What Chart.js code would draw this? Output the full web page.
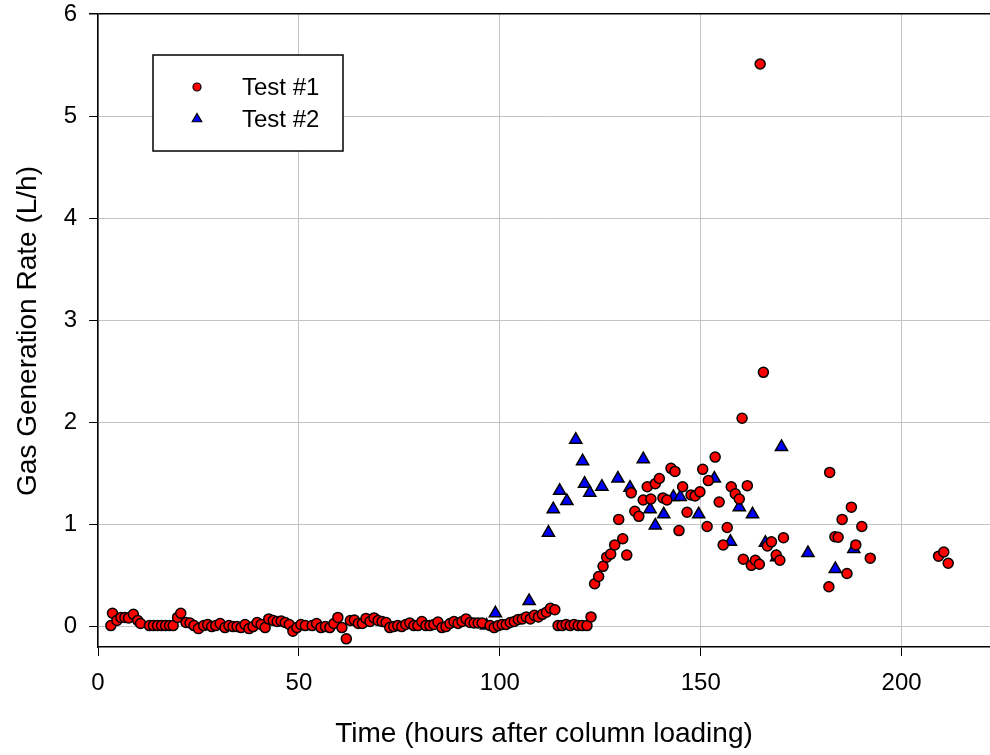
<!DOCTYPE html>
<html><head><meta charset="utf-8">
<script src="https://cdn.jsdelivr.net/npm/chart.js@4"></script>
<style>html,body{margin:0;padding:0;background:#fff;overflow:hidden}#wrap{width:990px;height:755px;position:relative}</style>
</head><body><div id="wrap"><canvas id="c" width="990" height="755"></canvas></div>
<script>
const seriesNames = ['Test #1', 'Test #2'];
const xTitle = 'Time (hours after column loading)';
const yTitle = 'Gas Generation Rate (L/h)';
const xTicks = [0, 50, 100, 150, 200];
const yTicks = [0, 1, 2, 3, 4, 5, 6];

const test1X = [3.2,3.6,4.7,5.7,6.7,7.6,8.8,9.9,10.6,12.8,13.8,14.8,15.8,16.8,17.8,18.7,19.8,20.6,21.9,22.9,23.9,25.0,26.3,27.3,28.3,29.3,30.4,31.6,32.6,33.6,34.6,35.6,36.6,37.6,38.6,39.6,40.6,41.6,42.5,43.6,44.6,45.6,46.6,47.6,48.5,49.5,50.5,51.6,53.3,54.4,55.5,56.6,57.7,58.7,59.7,60.7,61.8,62.8,63.8,64.8,65.8,66.7,67.7,68.7,69.7,70.7,71.7,72.6,73.6,74.6,75.6,76.6,77.6,78.6,79.6,80.6,81.6,82.6,83.6,84.6,85.6,86.6,87.6,88.6,89.6,90.6,91.6,92.6,93.6,94.6,95.6,97.6,98.6,99.6,100.6,101.6,102.6,103.6,104.6,105.6,106.6,107.6,108.6,109.6,110.6,111.6,112.6,113.7,114.5,115.5,116.5,117.5,118.5,119.5,120.5,121.7,122.7,123.6,124.6,125.7,126.6,127.6,128.6,129.6,130.6,131.6,132.7,133.6,134.6,135.7,136.7,137.6,138.7,139.7,140.6,141.6,142.6,143.6,144.6,145.5,146.6,147.6,148.6,149.8,150.5,151.6,151.9,153.6,154.6,155.6,156.6,157.6,158.6,159.6,160.3,160.6,161.6,162.6,163.6,164.6,164.8,165.6,166.6,167.6,168.8,169.7,170.6,181.9,182.1,183.4,184.2,185.2,186.4,187.5,188.6,190.1,192.2,209.2,210.5,211.6];
const test1Y = [0.01,0.13,0.06,0.09,0.09,0.085,0.12,0.06,0.03,0.01,0.01,0.01,0.01,0.01,0.01,0.01,0.09,0.13,0.04,0.035,0.01,-0.02,0.01,0.02,0.0,0.01,0.03,-0.01,0.01,0.0,0.0,-0.01,0.02,-0.02,0.0,0.04,0.02,-0.01,0.075,0.06,0.05,0.055,0.04,0.02,-0.045,-0.01,0.02,0.01,0.01,0.03,-0.01,0.0,-0.01,0.03,0.09,-0.01,-0.12,0.06,0.065,0.03,0.03,0.08,0.05,0.085,0.06,0.05,0.04,-0.01,0.0,0.01,0.0,0.02,0.035,0.01,0.01,0.05,0.01,0.01,0.02,0.045,-0.01,0.0,0.03,0.05,0.03,0.05,0.075,0.04,0.035,0.035,0.035,0.01,-0.01,0.01,0.02,0.02,0.04,0.05,0.07,0.075,0.095,0.075,0.11,0.095,0.12,0.14,0.18,0.165,0.01,0.01,0.02,0.01,0.02,0.01,0.01,0.01,0.095,0.42,0.49,0.59,0.68,0.71,0.80,1.05,0.86,0.70,1.31,1.13,1.08,1.24,1.37,1.25,1.40,1.45,1.26,1.24,1.55,1.52,0.94,1.37,1.12,1.29,1.28,1.32,1.54,0.98,1.43,1.66,1.22,0.80,0.97,1.37,1.30,1.25,2.04,0.66,1.38,0.60,0.65,0.61,5.51,2.49,0.79,0.83,0.70,0.65,0.87,0.39,1.51,0.88,0.875,1.05,0.52,1.17,0.80,0.98,0.67,0.69,0.73,0.62];

const test2X = [96.7,98.9,107.3,112.1,113.3,114.9,116.7,118.9,120.6,121.1,122.4,125.4,129.4,132.4,135.7,137.4,138.7,140.8,143.2,144.9,149.5,153.4,157.4,159.6,162.9,166.1,168.9,170.1,176.7,183.5,188.1];
const test2Y = [0.01,0.13,0.25,0.92,1.15,1.33,1.23,1.83,1.62,1.40,1.31,1.37,1.45,1.36,1.64,1.15,0.99,1.10,1.27,1.27,1.10,1.45,0.83,1.17,1.10,0.82,0.68,1.76,0.72,0.565,0.76];

const FONT = '"Liberation Sans", Arial, Helvetica, sans-serif';
const toPts = (xs, ys) => xs.map((x, i) => ({x: x, y: ys[i]}));

const overlay = {
  id: 'overlay',
  afterDraw(chart) {
    const ctx = chart.ctx;
    const ca = chart.chartArea;
    ctx.save();
    ctx.fillStyle = '#000';
    ctx.font = '28px ' + FONT;
    ctx.textAlign = 'center';
    ctx.textBaseline = 'middle';
    ctx.fillText(xTitle, (ca.left + ca.right) / 2, 734);
    ctx.translate(28, 331);
    ctx.rotate(-Math.PI / 2);
    ctx.fillText(yTitle, 0, 0);
    ctx.restore();

    // legend
    ctx.save();
    ctx.fillStyle = '#fff';
    ctx.fillRect(153, 55, 190, 96);
    ctx.strokeStyle = '#000';
    ctx.lineWidth = 1.5;
    ctx.strokeRect(153, 55, 190, 96);
    const ds = chart.data.datasets;
    const rows = [87, 119];
    ds.forEach((d, i) => {
      ctx.fillStyle = d.backgroundColor;
      ctx.strokeStyle = d.borderColor;
      ctx.lineWidth = 1.2;
      Chart.helpers.drawPoint(ctx, {pointStyle: d.pointStyle, radius: i === 0 ? 4 : 5.5, borderWidth: 1.2, rotation: 0}, 197, rows[i]);
      ctx.fillStyle = '#000';
      ctx.font = '24px ' + FONT;
      ctx.textAlign = 'left';
      ctx.textBaseline = 'middle';
      ctx.fillText(d.label, 242, rows[i] + 1);
    });
    ctx.restore();
  }
};

new Chart(document.getElementById('c'), {
  type: 'scatter',
  data: {
    datasets: [
      {label: seriesNames[0], data: toPts(test1X, test1Y), pointStyle: 'circle', pointRadius: 5, pointHoverRadius: 5,
       backgroundColor: '#ff0000', borderColor: '#000', borderWidth: 1.5},
      {label: seriesNames[1], data: toPts(test2X, test2Y), pointStyle: 'triangle', pointRadius: 7, pointHoverRadius: 7,
       backgroundColor: '#0000ff', borderColor: '#000', borderWidth: 1.5}
    ]
  },
  options: {
    responsive: false,
    animation: false,
    devicePixelRatio: 1,
    layout: {autoPadding: false, padding: {top: 14, right: 0, left: 0, bottom: 0}},
    plugins: {legend: {display: false}, tooltip: {enabled: false}, title: {display: false}},
    scales: {
      x: {
        type: 'linear', min: 0, max: 222,
        afterBuildTicks: s => { s.ticks = xTicks.map(v => ({value: v})); },
        afterFit: s => { s.height = 108; s.paddingLeft = 0; s.paddingRight = 0; s.paddingTop = 0; s.paddingBottom = 0; },
        grid: {color: '#c4c4c4', lineWidth: 1, tickColor: '#000', tickLength: 9, drawTicks: true},
        border: {color: '#000', width: 1.5},
        ticks: {color: '#000', font: {family: FONT, size: 24}, padding: 13, maxRotation: 0, autoSkip: false}
      },
      y: {
        type: 'linear', min: -0.2, max: 6,
        afterBuildTicks: s => { s.ticks = yTicks.map(v => ({value: v})); },
        afterFit: s => { s.width = 98; s.paddingLeft = 0; s.paddingRight = 0; s.paddingTop = 0; s.paddingBottom = 0; },
        grid: {color: c => (c.tick && c.tick.value === 6) ? '#000' : '#c4c4c4', lineWidth: c => (c.tick && c.tick.value === 6) ? 1.5 : 1, tickColor: '#000', tickLength: 9, drawTicks: true},
        border: {color: '#000', width: 1.5},
        ticks: {color: '#000', font: {family: FONT, size: 24}, padding: 12, autoSkip: false}
      }
    }
  },
  plugins: [overlay]
});
</script></body></html>
